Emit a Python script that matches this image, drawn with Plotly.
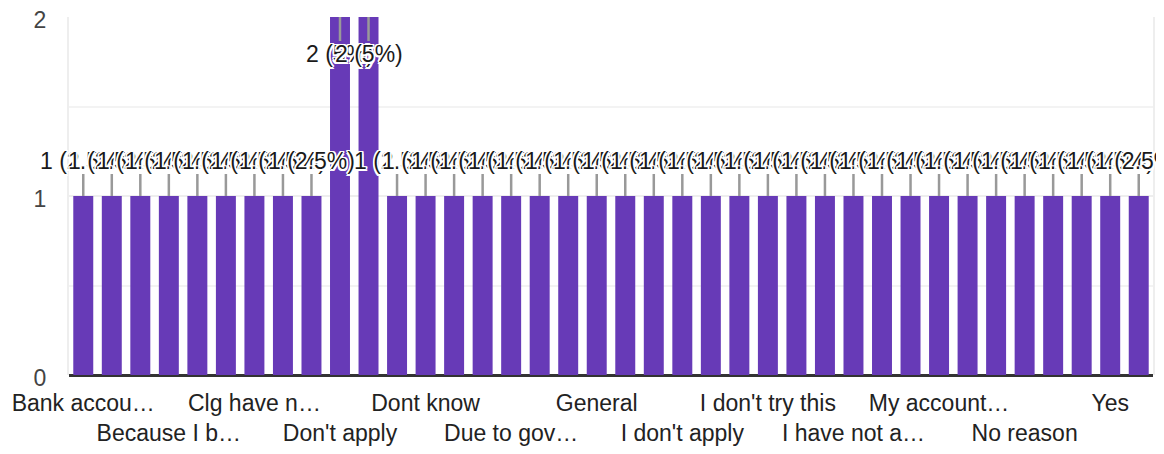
import plotly.graph_objects as go

categories = [
    "Bank account not linked", "Bank issue", "Bank problem",
    "Because I busy", "Because of documents", "Certificate not available",
    "Clg have not informed", "Did not know", "Documents missing",
    "Don't apply", "Don't know", "Don't need",
    "Dont know", "Dont need", "Due to documents",
    "Due to government rules", "Family income", "Forgot",
    "General", "Have no time", "I am not eligible",
    "I don't apply", "I don't know", "I don't need",
    "I don't try this", "I forgot", "I have no idea",
    "I have not applied", "Lack of information", "Many problems",
    "My account is not linked", "No", "No idea",
    "No reason", "Not eligible", "Not interested",
    "Yes", "Yes I applied",
]
values = [1, 1, 1, 1, 1, 1, 1, 1, 1, 2, 2, 1, 1, 1, 1, 1, 1, 1, 1,
          1, 1, 1, 1, 1, 1, 1, 1, 1, 1, 1, 1, 1, 1, 1, 1, 1, 1, 1]
tick_labels = ["Bank accou…", "Because I b…", "Clg have n…", "Don't apply",
               "Dont know", "Due to gov…", "General", "I don't apply",
               "I don't try this", "I have not a…", "My account…",
               "No reason", "Yes"]
tick_step = 3
y_ticks = [0, 1, 2]

total = sum(values)
ymax = max(values)
FONT = "Liberation Sans, Arial, sans-serif"
halo = ("1.5px 1.5px 0 #fff, -1.5px -1.5px 0 #fff, 1.5px -1.5px 0 #fff, "
        "-1.5px 1.5px 0 #fff, 0 1.5px 0 #fff, 0 -1.5px 0 #fff, 1.5px 0 0 #fff, -1.5px 0 0 #fff")

fig = go.Figure()
fig.add_trace(go.Bar(x=categories, y=values, marker_color="#673ab7",
                     marker_line_width=0, hoverinfo="skip"))

tickvals = categories[::tick_step]
ticktext = [t if i % 2 == 0 else "<br>" + t for i, t in enumerate(tick_labels)]

for c, v in zip(categories, values):
    pct = v / total * 100
    pct_txt = f"{pct:g}%"
    inside = v >= ymax
    fig.add_annotation(
        x=c, y=v, text=f"{v} ({pct_txt})", showarrow=True, arrowhead=0,
        arrowwidth=2.5, arrowcolor="#999999", ax=0, ay=37 if inside else -35,
        font=dict(family=FONT, size=23, color="#1a1a1a", shadow=halo),
        borderpad=0, borderwidth=0,
    )

fig.update_layout(
    width=1148, height=438,
    margin=dict(l=61, r=3, t=9, b=71),
    paper_bgcolor="white", plot_bgcolor="white",
    showlegend=False, bargap=0.3,
    font=dict(family=FONT, color="#222222"),
)
fig.update_xaxes(
    type="category", range=[-0.5, len(categories) - 0.5],
    tickmode="array", tickvals=tickvals, ticktext=ticktext, tickangle=0,
    tickfont=dict(family=FONT, size=23, color="#222222"),
    showgrid=False, ticks="", showline=False, zeroline=False,
    ticklabelstandoff=12, automargin=False, ticklabeloverflow="allow",
)
fig.update_yaxes(
    range=[0, ymax], tickmode="array", tickvals=y_ticks,
    tickfont=dict(family=FONT, size=23, color="#444444"),
    showgrid=True, gridcolor="#eeeeee", gridwidth=2,
    minor=dict(dtick=0.5, showgrid=True, gridcolor="#f3f3f3", gridwidth=2),
    zeroline=True, zerolinecolor="#333333", zerolinewidth=3,
    showline=True, linecolor="#eeeeee", linewidth=2, mirror=True,
    ticks="", ticklabelstandoff=16, ticklabelshift=3,
    automargin=False, ticklabeloverflow="allow",
)

fig.write_html("out.html")
